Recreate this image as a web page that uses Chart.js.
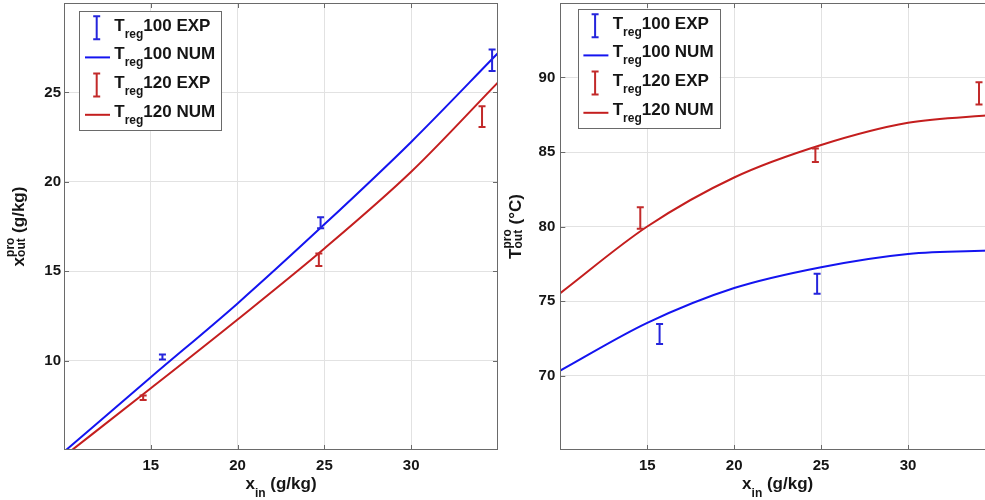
<!DOCTYPE html>
<html><head><meta charset="utf-8">
<script src="https://cdn.jsdelivr.net/npm/chart.js@4.4.1/dist/chart.umd.min.js"></script>
<style>
html,body{margin:0;padding:0;background:#fff;}
#wrap{position:relative;width:985px;height:500px;overflow:hidden;background:#fff;}
canvas{position:absolute;top:0;}
#c1{left:0;}
#c2{left:500px;}
</style></head><body>
<div id="wrap"><canvas id="c1" width="500" height="500"></canvas><canvas id="c2" width="497" height="500"></canvas></div>
<script>
// ---------- data ----------
const xTicks = [15, 20, 25, 30];
const yTicksLeft = [10, 15, 20, 25];
const yTicksRight = [70, 75, 80, 85, 90];

const numX = [10, 15, 20, 25, 30, 35];
const xoutNum100 = [4.9, 9.07, 13.2, 17.62, 22.23, 27.2];
const xoutNum120 = [4.65, 8.45, 12.3, 16.27, 20.56, 25.56];
const toutNum100 = [70.33, 73.53, 75.87, 77.27, 78.16, 78.4];
const toutNum120 = [75.53, 80.0, 83.29, 85.47, 86.96, 87.5];

const xoutExpX100 = [15.67, 24.78, 34.66];
const xoutExp100 = [10.2, 17.71, 26.8];
const xoutErr100 = [0.14, 0.31, 0.6];
const xoutExpX120 = [14.56, 24.68, 34.08];
const xoutExp120 = [7.92, 15.64, 23.65];
const xoutErr120 = [0.13, 0.35, 0.58];

const toutExpX100 = [15.71, 24.77];
const toutExp100 = [72.78, 76.16];
const toutErr100 = [0.67, 0.67];
const toutExpX120 = [14.6, 24.67, 34.08];
const toutExp120 = [80.57, 84.78, 88.93];
const toutErr120 = [0.72, 0.45, 0.75];

const legendSub = 'reg';
const legendNames = ['100 EXP', '100 NUM', '120 EXP', '120 NUM'];

// ---------- styles ----------
const FONT = "'Liberation Sans', Arial, sans-serif";
const BLUE = '#1414f0';
const RED = '#c41e1e';
const BLUE_E = '#2525dc';
const RED_E = '#c22a2a';
const GRID = '#e2e2e2';
const FRAME = '#6a6a6a';
const TXT = '#151515';

function pts(xs, ys) { return xs.map((x, i) => ({x: x, y: ys[i]})); }

function drawRich(ctx, parts, x, y, align) {
  const widths = parts.map(p => {
    ctx.font = 'bold ' + p.size + 'px ' + FONT;
    if (p.t !== undefined) return ctx.measureText(p.t).width;
    return Math.max(ctx.measureText(p.sup).width, ctx.measureText(p.sub).width);
  });
  const total = widths.reduce((a, b) => a + b, 0);
  let cx = align === 'center' ? x - total / 2 : x;
  ctx.textAlign = 'left';
  ctx.textBaseline = 'alphabetic';
  parts.forEach((p, i) => {
    ctx.font = 'bold ' + p.size + 'px ' + FONT;
    if (p.t !== undefined) ctx.fillText(p.t, cx, y + (p.dy || 0));
    else { ctx.fillText(p.sup, cx, y - p.up); ctx.fillText(p.sub, cx, y + p.down); }
    cx += widths[i];
  });
}

const errorBarPlugin = {
  id: 'errbars',
  afterDatasetsDraw(chart) {
    const ctx = chart.ctx, xs = chart.scales.x, ys = chart.scales.y, a = chart.chartArea;
    ctx.save();
    ctx.beginPath(); ctx.rect(a.left, a.top, a.right - a.left, a.bottom - a.top); ctx.clip();
    chart.data.datasets.forEach(ds => {
      if (!ds.errors) return;
      ctx.strokeStyle = ds.borderColor; ctx.lineWidth = 2;
      ds.data.forEach((p, i) => {
        const px = xs.getPixelForValue(p.x);
        const y1 = ys.getPixelForValue(p.y - ds.errors[i]);
        const y2 = ys.getPixelForValue(p.y + ds.errors[i]);
        ctx.beginPath();
        ctx.moveTo(px, y1); ctx.lineTo(px, y2);
        ctx.moveTo(px - 3.5, y1); ctx.lineTo(px + 3.5, y1);
        ctx.moveTo(px - 3.5, y2); ctx.lineTo(px + 3.5, y2);
        ctx.stroke();
      });
    });
    ctx.restore();
  }
};

function decorPlugin(opts) {
  return {
    id: 'decor',
    afterDraw(chart) {
      const ctx = chart.ctx, a = chart.chartArea, xs = chart.scales.x, ys = chart.scales.y;
      ctx.save();
      // frame
      ctx.strokeStyle = FRAME; ctx.lineWidth = 1;
      ctx.strokeRect(Math.round(a.left) + 0.5, Math.round(a.top) + 0.5, Math.round(a.right - a.left) - 1, Math.round(a.bottom - a.top) - 1);
      // inward ticks
      ctx.beginPath();
      xs.ticks.forEach(t => {
        const px = Math.round(xs.getPixelForValue(t.value)) + 0.5;
        ctx.moveTo(px, a.bottom); ctx.lineTo(px, a.bottom - 5);
        ctx.moveTo(px, a.top); ctx.lineTo(px, a.top + 5);
      });
      ys.ticks.forEach(t => {
        const py = Math.round(ys.getPixelForValue(t.value)) + 0.5;
        ctx.moveTo(a.left, py); ctx.lineTo(a.left + 5, py);
        ctx.moveTo(a.right, py); ctx.lineTo(a.right - 5, py);
      });
      ctx.stroke();

      // legend
      const L = opts.legend;
      const bx = a.left + L.dx, by = a.top + L.dy;
      ctx.fillStyle = '#fff';
      ctx.fillRect(bx, by, L.w, L.h);
      ctx.strokeStyle = FRAME;
      ctx.strokeRect(Math.round(bx) + 0.5, Math.round(by) + 0.5, L.w, L.h);
      const rows = [19.7, 48.4, 77.1, 105.8];
      const kinds = [['err', BLUE_E], ['line', BLUE], ['err', RED_E], ['line', RED]];
      rows.forEach((r, i) => {
        const base = by + r;
        ctx.strokeStyle = kinds[i][1]; ctx.lineWidth = 2;
        ctx.beginPath();
        if (kinds[i][0] === 'err') {
          const cx = bx + 17.4, t = base - 14.5, b = base + 8.5;
          ctx.moveTo(cx, t); ctx.lineTo(cx, b);
          ctx.moveTo(cx - 3.5, t); ctx.lineTo(cx + 3.5, t);
          ctx.moveTo(cx - 3.5, b); ctx.lineTo(cx + 3.5, b);
        } else {
          ctx.moveTo(bx + 5.7, base - 2); ctx.lineTo(bx + 30.7, base - 2);
        }
        ctx.stroke();
        ctx.fillStyle = TXT;
        drawRich(ctx, [{t: 'T', size: 17}, {t: legendSub, size: 12, dy: 7}, {t: legendNames[i], size: 17}], bx + 35, base, 'left');
      });

      // axis titles
      ctx.fillStyle = TXT;
      drawRich(ctx, [{t: 'x', size: 17}, {t: 'in', size: 12, dy: 8}, {t: ' (g/kg)', size: 17}], (a.left + a.right) / 2, 488.5, 'center');
      ctx.save();
      ctx.translate(opts.yTitleX, (a.top + a.bottom) / 2);
      ctx.rotate(-Math.PI / 2);
      drawRich(ctx, opts.yTitle, 0, 0, 'center');
      ctx.restore();
      ctx.restore();
    }
  };
}

function makeChart(id, o) {
  const tickFont = {family: FONT, size: 15, weight: 'bold'};
  return new Chart(document.getElementById(id), {
    type: 'line',
    data: {datasets: o.datasets},
    options: {
      responsive: false, animation: false, devicePixelRatio: 1,
      layout: {padding: {top: 3, right: 2, left: 0, bottom: 0}},
      plugins: {legend: {display: false}, tooltip: {enabled: false}},
      elements: {point: {radius: 0}},
      scales: {
        x: {type: 'linear', min: 10, max: 35,
          afterBuildTicks: s => { s.ticks = xTicks.map(v => ({value: v})); },
          afterFit: s => { s.height = 50; s.paddingLeft = 0; s.paddingRight = 0; },
          grid: {color: GRID, lineWidth: 1, drawTicks: false},
          border: {display: false},
          ticks: {font: tickFont, color: TXT, padding: 7, maxRotation: 0}},
        y: {type: 'linear', min: o.ymin, max: o.ymax,
          afterBuildTicks: s => { s.ticks = o.yTicks.map(v => ({value: v})); },
          afterFit: s => { s.width = o.yWidth; s.paddingTop = 0; s.paddingBottom = 0; },
          grid: {color: GRID, lineWidth: 1, drawTicks: false},
          border: {display: false},
          ticks: {font: tickFont, color: TXT, padding: o.yPad}}
      }
    },
    plugins: [errorBarPlugin, decorPlugin(o)]
  });
}

function numDs(xs, ys, color) {
  return {data: pts(xs, ys), borderColor: color, borderWidth: 2, cubicInterpolationMode: 'monotone', pointRadius: 0, fill: false};
}
function expDs(xs, ys, err, color) {
  return {data: pts(xs, ys), errors: err, borderColor: color, showLine: false, pointRadius: 0};
}

makeChart('c1', {
  ymin: 5, ymax: 30, yTicks: yTicksLeft, yWidth: 64, yPad: 3,
  datasets: [
    expDs(xoutExpX100, xoutExp100, xoutErr100, BLUE_E),
    numDs(numX, xoutNum100, BLUE),
    expDs(xoutExpX120, xoutExp120, xoutErr120, RED_E),
    numDs(numX, xoutNum120, RED)
  ],
  legend: {dx: 15.3, dy: 8, w: 142, h: 119},
  yTitleX: 24,
  yTitle: [{t: 'x', size: 17}, {sup: 'pro', sub: 'out', size: 12, up: 10, down: 1}, {t: ' (g/kg)', size: 17}]
});

makeChart('c2', {
  ymin: 65, ymax: 95, yTicks: yTicksRight, yWidth: 60.3, yPad: 5,
  datasets: [
    expDs(toutExpX100, toutExp100, toutErr100, BLUE_E),
    numDs(numX, toutNum100, BLUE),
    expDs(toutExpX120, toutExp120, toutErr120, RED_E),
    numDs(numX, toutNum120, RED)
  ],
  legend: {dx: 17.4, dy: 6, w: 142, h: 119},
  yTitleX: 21,
  yTitle: [{t: 'T', size: 17}, {sup: 'pro', sub: 'out', size: 12, up: 10, down: 1}, {t: ' (\u00B0C)', size: 17}]
});
</script>
</body></html>
